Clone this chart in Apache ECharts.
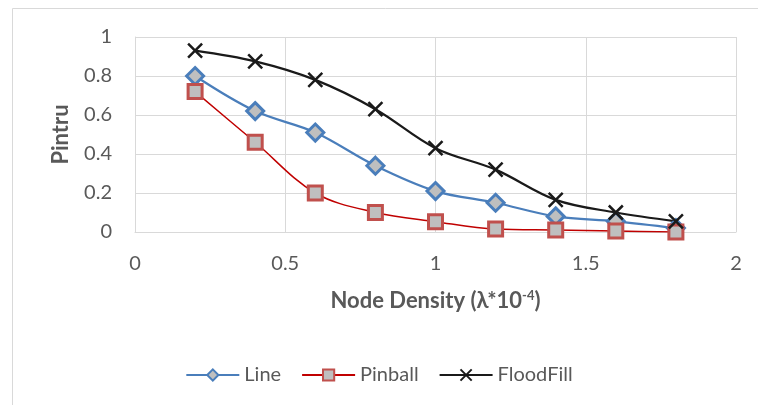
<!DOCTYPE html>
<html><head><meta charset="utf-8">
<script src="https://cdn.jsdelivr.net/npm/echarts@6/dist/echarts.min.js"></script>
<style>html,body{margin:0;padding:0;background:#fff}#c{width:758px;height:405px}</style>
</head><body><div id="c"></div>
<script>
const xValues = [0.2, 0.4, 0.6, 0.8, 1.0, 1.2, 1.4, 1.6, 1.8];
const lineValues = [0.80, 0.62, 0.51, 0.34, 0.21, 0.15, 0.08, 0.055, 0.02];
const pinballValues = [0.72, 0.46, 0.20, 0.10, 0.053, 0.015, 0.01, 0.005, 0.0];
const floodValues = [0.93, 0.875, 0.78, 0.63, 0.43, 0.32, 0.165, 0.10, 0.055];
const xTicks = [0, 0.5, 1, 1.5, 2];
const yTicks = [0, 0.2, 0.4, 0.6, 0.8, 1];

const pair = v => xValues.map((x, i) => [x, v[i]]);
const font = 'Lato, "Open Sans", sans-serif';
const grey = '#595959';
const chart = echarts.init(document.getElementById('c'));
chart.setOption({
  animation: false,
  textStyle: {fontFamily: font},
  graphic: [{type: 'rect', shape: {x: 12.5, y: 8.5, width: 800, height: 450},
    style: {fill: 'none', stroke: '#d9d9d9', lineWidth: 1}, silent: true, z: -1}],
  grid: {left: 135, right: 22, top: 37, bottom: 173},
  xAxis: {
    type: 'value', min: 0, max: 2, interval: 0.5,
    axisLine: {lineStyle: {color: '#d9d9d9', width: 1}},
    axisTick: {show: false},
    splitLine: {show: true, lineStyle: {color: '#d9d9d9', width: 1}},
    axisLabel: {color: grey, fontSize: 20, margin: 22, fontFamily: font,
      formatter: v => xTicks.includes(v) ? String(v) : ''},
    name: '{t|Node Density (λ*10}{s|-4}{t|)}', nameLocation: 'middle', nameGap: 57,
    nameTextStyle: {rich: {
      t: {fontSize: 22, fontWeight: 'bold', color: grey, fontFamily: font},
      s: {fontSize: 13, fontWeight: 'bold', color: grey, fontFamily: font, verticalAlign: 'top', padding: [0,0,10,0]}}}
  },
  yAxis: {
    type: 'value', min: 0, max: 1, interval: 0.2,
    axisLine: {show: true, lineStyle: {color: '#d9d9d9', width: 1}},
    axisTick: {show: false},
    splitLine: {show: true, lineStyle: {color: '#d9d9d9', width: 1}},
    axisLabel: {color: grey, fontSize: 20, margin: 23, fontFamily: font,
      formatter: v => { const t = yTicks.find(k => Math.abs(k - v) < 1e-9); return t === undefined ? '' : String(t); }},
    name: 'Pintru', nameLocation: 'middle', nameGap: 63, nameRotate: 90,
    nameTextStyle: {fontSize: 22, fontWeight: 'bold', color: grey, fontFamily: font}
  },
  legend: {
    top: 360, left: 'center', itemWidth: 53, itemHeight: 14, itemGap: 20,
    textStyle: {color: grey, fontSize: 20, fontFamily: font},
    data: ['Line', 'Pinball', 'FloodFill']
  },
  series: [
    {name: 'Line', type: 'line', data: pair(lineValues), smooth: 0.35,
      symbol: 'diamond', symbolSize: 17,
      lineStyle: {color: '#4a7ebb', width: 2.25},
      itemStyle: {color: '#bfbfbf', borderColor: '#4a7ebb', borderWidth: 3}},
    {name: 'Pinball', type: 'line', data: pair(pinballValues), smooth: 0.35,
      symbol: 'rect', symbolSize: 14,
      lineStyle: {color: '#c00000', width: 1.5},
      itemStyle: {color: '#bfbfbf', borderColor: '#c0504d', borderWidth: 3}},
    {name: 'FloodFill', type: 'line', data: pair(floodValues), smooth: 0.35,
      symbol: 'path://M0,0L10,10M10,0L0,10', symbolSize: 14,
      lineStyle: {color: '#1a1a1a', width: 2.25},
      itemStyle: {color: '#1a1a1a', borderColor: '#1a1a1a', borderWidth: 2.5}}
  ]
});
</script></body></html>
